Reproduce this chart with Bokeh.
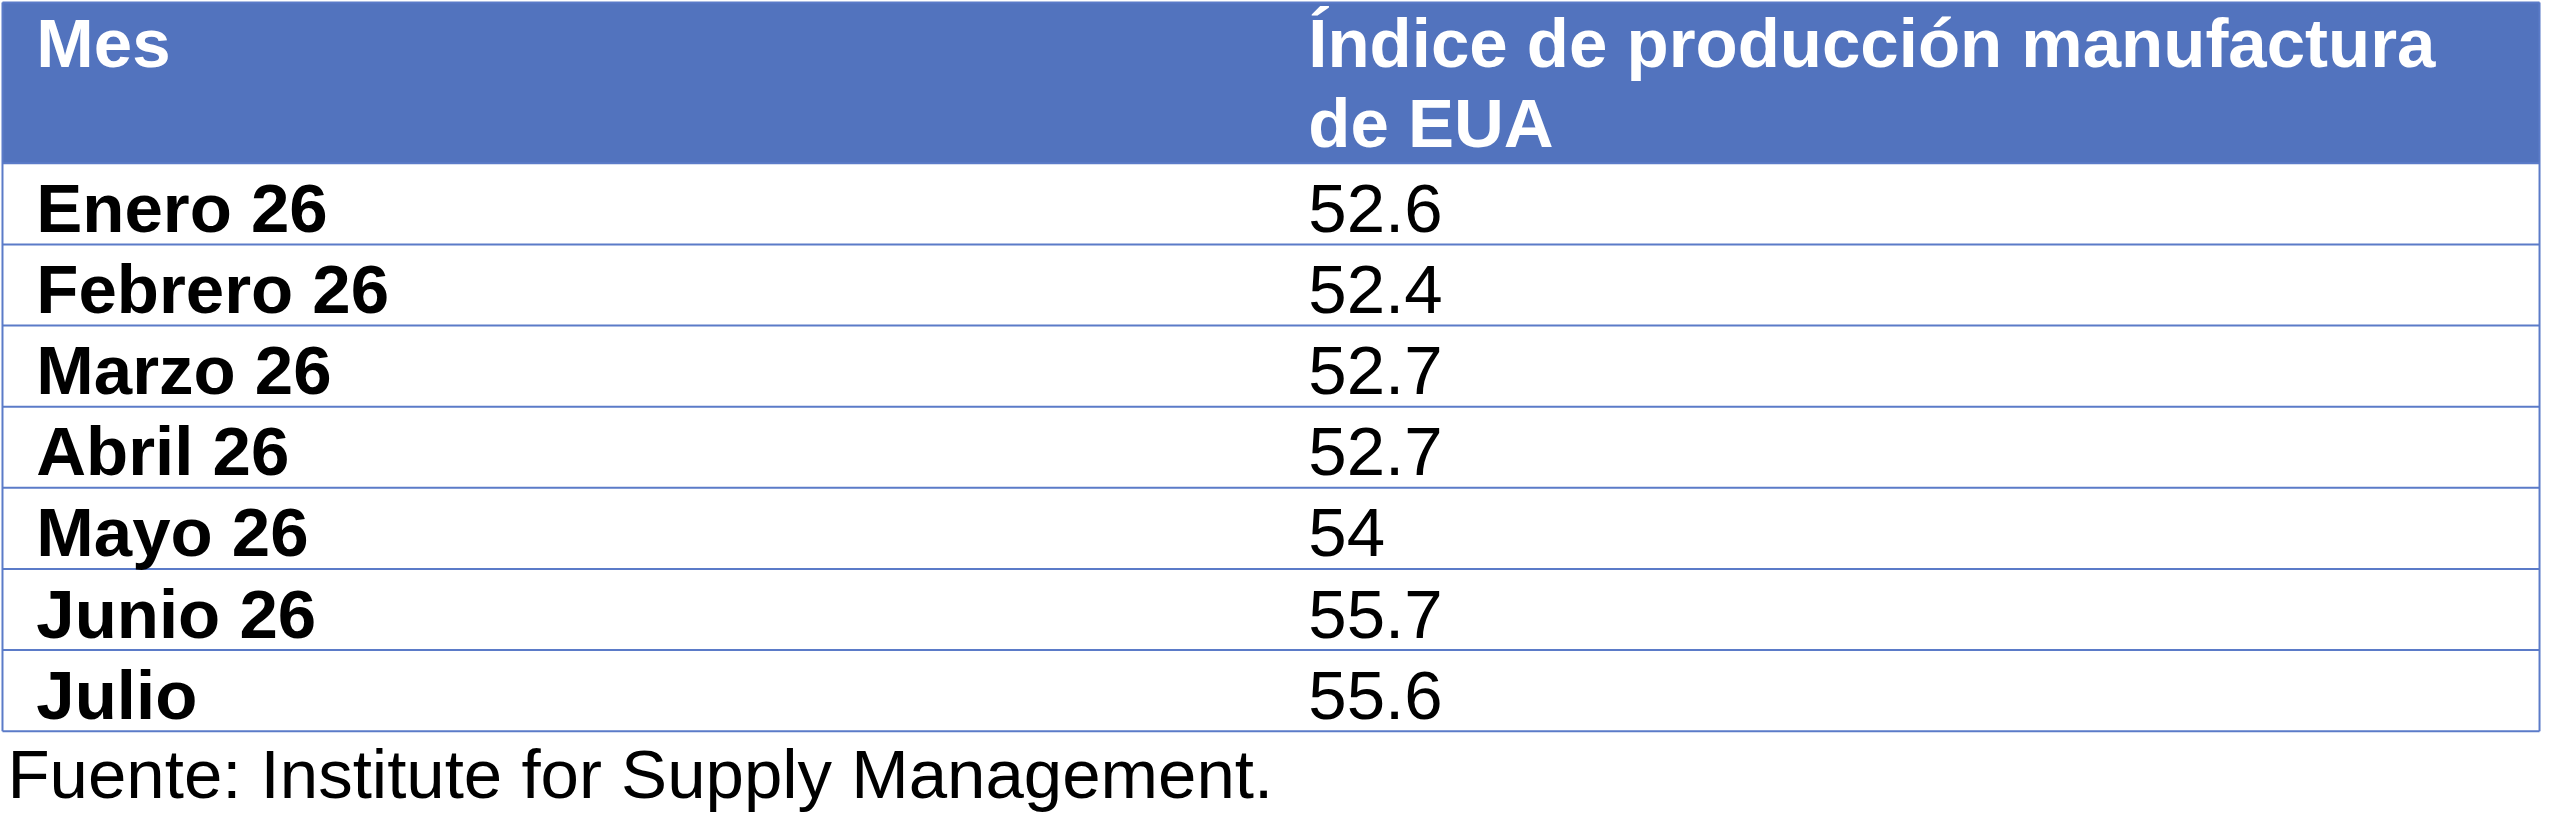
from bokeh.plotting import figure
from bokeh.models import Range1d, ColumnDataSource
from bokeh.core.properties import value
from bokeh.embed import file_html
from bokeh.resources import INLINE

# ---- data ----
header_left = "Mes"
header_right = ["Índice de producción manufactura", "de EUA"]
months = ["Enero 26", "Febrero 26", "Marzo 26", "Abril 26", "Mayo 26", "Junio 26", "Julio"]
index_values = [52.6, 52.4, 52.7, 52.7, 54, 55.7, 55.6]
source_note = "Fuente: Institute for Supply Management."

# ---- layout (in reference pixel coordinates) ----
W, H = 2560, 833
tbl_left, tbl_right = 2, 2555
tbl_top, head_bottom = 2, 166
row_h = (745 - head_bottom) / len(months)
col1_x, col2_x = 36, 1316
header_blue = "#5273BE"
line_blue = "#5B7BC8"
FONT = "Liberation Sans"
BASE_FIX = -20  # renderer baseline correction

p = figure(width=2544, height=817, output_backend="svg", toolbar_location=None,
           x_range=Range1d(0, W), y_range=Range1d(H, 0), min_border=0,
           background_fill_color="white", border_fill_color="white")
p.axis.visible = False
p.grid.visible = False
p.outline_line_color = None

# header background
p.quad(left=[tbl_left], right=[tbl_right], top=[tbl_top], bottom=[head_bottom],
       fill_color=header_blue, line_color=None)

# horizontal lines
n = len(months)
ys = [tbl_top] + [head_bottom + i * row_h for i in range(n + 1)]
p.segment(x0=[tbl_left] * len(ys), x1=[tbl_right] * len(ys), y0=ys, y1=ys,
          line_color=line_blue, line_width=2)
# vertical borders
bottom = head_bottom + n * row_h
p.segment(x0=[tbl_left, tbl_right], x1=[tbl_left, tbl_right], y0=[tbl_top, tbl_top],
          y1=[bottom, bottom], line_color=line_blue, line_width=2)

fs = "69px"
# header text
p.text(x=[col1_x], y=[64 + BASE_FIX], text=[header_left], text_color="white",
       text_font=value(FONT), text_font_style="bold", text_font_size=fs,
       text_baseline="alphabetic")
p.text(x=[col2_x, col2_x], y=[64 + BASE_FIX, 145 + BASE_FIX], text=header_right,
       text_color="white", text_font=value(FONT), text_font_style="bold",
       text_font_size=fs, text_baseline="alphabetic")

# rows
row_base = [head_bottom + i * row_h + 66 + BASE_FIX for i in range(n)]
src = ColumnDataSource(dict(m=months, v=[f"{v:g}" for v in index_values],
                            y=row_base, x1=[col1_x] * n, x2=[col2_x] * n))
p.text(x="x1", y="y", text="m", source=src, text_color="black",
       text_font=value(FONT), text_font_style="bold", text_font_size=fs,
       text_baseline="alphabetic")
p.text(x="x2", y="y", text="v", source=src, text_color="black",
       text_font=value(FONT), text_font_style="normal", text_font_size=fs,
       text_baseline="alphabetic")

# source note
p.text(x=[7], y=[809 + BASE_FIX], text=[source_note], text_color="black",
       text_font=value(FONT), text_font_size=fs, text_baseline="alphabetic")

open("out.html", "w").write(file_html(p, INLINE))
